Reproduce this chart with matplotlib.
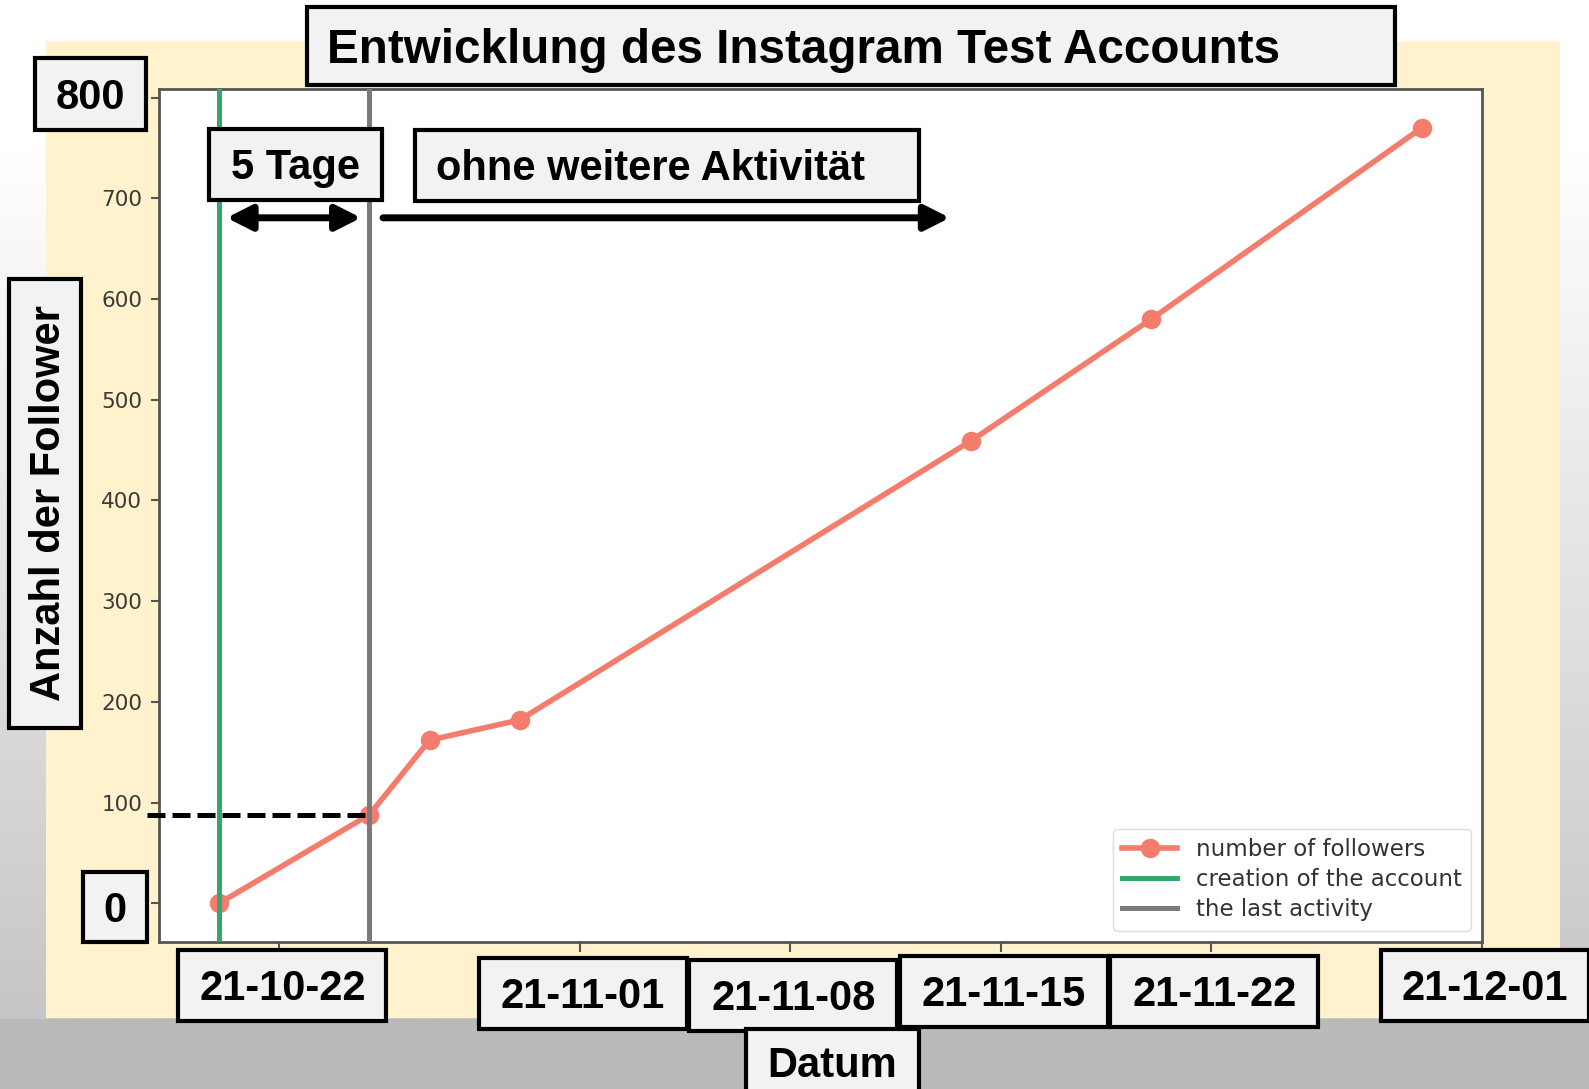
import numpy as np
import pandas as pd
import matplotlib
matplotlib.use("Agg")
import matplotlib.pyplot as plt
import matplotlib.dates as mdates
from matplotlib.patches import Rectangle

# ---------------- data ----------------
dates = ["2021-10-20", "2021-10-25", "2021-10-27", "2021-10-30",
         "2021-11-14", "2021-11-20", "2021-11-29"]
followers = [0, 88, 162, 182, 459, 580, 770]
creation_date = "2021-10-20"
last_activity_date = "2021-10-25"
x_tick_labels = ["21-10-22", "21-11-01", "21-11-08", "21-11-15", "21-11-22", "21-12-01"]
y_ticks = [0, 100, 200, 300, 400, 500, 600, 700, 800]
title = "Entwicklung des Instagram Test Accounts"
y_label = "Anzahl der Follower"
x_label = "Datum"
note_days = "5 Tage"
note_after = "ohne weitere Aktivität"
legend_labels = ["number of followers", "creation of the account", "the last activity"]

# ---------------- styles ----------------
SALMON = "#f47c6c"
GREEN = "#33a86a"
GRAY = "#7a7a7a"
BOX_FC = "#f2f2f2"
BEIGE = "#fff2cc"
BOLD = ["Liberation Sans", "DejaVu Sans"]

W, H = 1589, 1089
fig = plt.figure(figsize=(W / 100, H / 100), dpi=100)

# background gradient + beige panel
bg = fig.add_axes([0, 0, 1, 1], zorder=-10)
yy = np.arange(H)
v = np.interp(yy, [0, 150, 1018, 1019, H], [255, 255, 198, 186, 186]) / 255.0
img = np.repeat(v[:, None], 2, axis=1)
bg.imshow(np.dstack([img, img, img]), aspect="auto", extent=[0, W, H, 0],
          interpolation="bilinear")
bg.add_patch(Rectangle((46, 41), 1514, 977, color=BEIGE, lw=0))
bg.set_xlim(0, W)
bg.set_ylim(H, 0)
bg.axis("off")

# ---------------- main chart ----------------
ax = fig.add_axes([159 / W, 1 - 942 / H, (1482 - 159) / W, (942 - 89) / H])
ax.set_facecolor("white")

d = pd.to_datetime(dates)
cd = pd.to_datetime(creation_date)
la = pd.to_datetime(last_activity_date)

ax.plot(d, followers, color=SALMON, lw=4, marker="o", ms=13,
        label=legend_labels[0], zorder=2)
ax.axvline(cd, color=GREEN, lw=3.6, label=legend_labels[1], zorder=3)
ax.axvline(la, color=GRAY, lw=3.6, label=legend_labels[2], zorder=3)

# freeze the default (5 % margin) limits before adding ticks / annotations
xlim = ax.get_xlim()
ylim = ax.get_ylim()

tick_dates = pd.to_datetime(x_tick_labels, format="%y-%m-%d")
ax.set_xticks(tick_dates)
ax.tick_params(axis="x", labelbottom=False, length=7, width=1.5, color="#555555")
# 0 and 800 are shown in the boxed labels on top
ax.set_yticks(y_ticks, ["" if t in (y_ticks[0], y_ticks[-1]) else str(t) for t in y_ticks])
ax.tick_params(axis="y", labelsize=15.5, labelcolor="#3a3a3a", length=6, width=1.5,
               color="#555555", pad=6)
for s in ax.spines.values():
    s.set_color("#555555")
    s.set_linewidth(2)
ax.set_xlim(xlim)
ax.set_ylim(ylim)

# dashed reference line at follower count of the last activity
la_num = mdates.date2num(la)
cd_num = mdates.date2num(cd)
val_last = followers[dates.index(last_activity_date)]
ax.plot([la_num - 0.15, xlim[0] - 0.4], [val_last, val_last], color="black", lw=3.6,
        linestyle=(0, (3.6, 1.4)), clip_on=False, zorder=4, scalex=False, scaley=False)

# arrows
arrow_kw = dict(arrowstyle="<|-|>,head_length=0.75,head_width=0.38",
                mutation_scale=20, lw=5, color="black", shrinkA=0, shrinkB=0)
ax.annotate("", xy=(la_num - 0.28, 0.849), xytext=(cd_num + 0.25, 0.849),
            xycoords=("data", "axes fraction"), textcoords=("data", "axes fraction"),
            arrowprops=arrow_kw, annotation_clip=False)
arrow_kw2 = dict(arrow_kw, arrowstyle="-|>,head_length=0.75,head_width=0.38")
ax.annotate("", xy=(la_num + 19.3, 0.849), xytext=(la_num + 0.45, 0.849),
            xycoords=("data", "axes fraction"), textcoords=("data", "axes fraction"),
            arrowprops=arrow_kw2, annotation_clip=False)

ax.set_xlim(xlim)
ax.set_ylim(ylim)

leg = ax.legend(loc="lower right", fontsize=16.5, handlelength=2.4, framealpha=1,
                edgecolor="#dddddd", fancybox=True, borderaxespad=0.5,
                labelspacing=0.32, handletextpad=0.8)
for t in leg.get_texts():
    t.set_color("#333333")

# ---------------- overlay boxes ----------------
ov = fig.add_axes([0, 0, 1, 1], zorder=10)
ov.set_xlim(0, W)
ov.set_ylim(H, 0)
ov.axis("off")


def box(x0, x1, y0, y1, text, size=30, ha="center", rot=0, padx=20):
    ov.add_patch(Rectangle((x0, y0), x1 - x0, y1 - y0, facecolor=BOX_FC,
                           edgecolor="black", lw=3, clip_on=False))
    cap = 0.716 * size * 100 / 72
    if rot == 0:
        x = (x0 + x1) / 2 if ha == "center" else x0 + padx
        ov.text(x, (y0 + y1) / 2 + cap / 2, text, fontsize=size, fontweight="bold",
                family=BOLD, ha=ha, va="baseline", clip_on=False)
    else:
        ov.text((x0 + x1) / 2 + cap / 2, (y0 + y1) / 2, text, fontsize=size,
                fontweight="bold", family=BOLD, rotation=90, rotation_mode="anchor",
                ha="center", va="baseline", clip_on=False)


box(307, 1395, 7, 85, title, size=34.3, ha="left", padx=20)
box(35, 146, 58, 130, str(y_ticks[-1]))
box(83, 147, 872, 942, str(y_ticks[0]))
box(209, 382, 129, 200, note_days)
box(415, 919, 130, 201, note_after, ha="left", padx=21)
box(9, 81, 279, 728, y_label, rot=90)

label_tops = [950, 958, 960, 956, 956, 950]
for lab, td, top in zip(x_tick_labels, tick_dates, label_tops):
    xc = ax.transData.transform((mdates.date2num(td), 0))[0] + 3
    box(xc - 104, xc + 104, top, top + 71, lab)

box(746, 919, 1029, 1095, x_label)

fig.savefig("out.png", dpi=100)
